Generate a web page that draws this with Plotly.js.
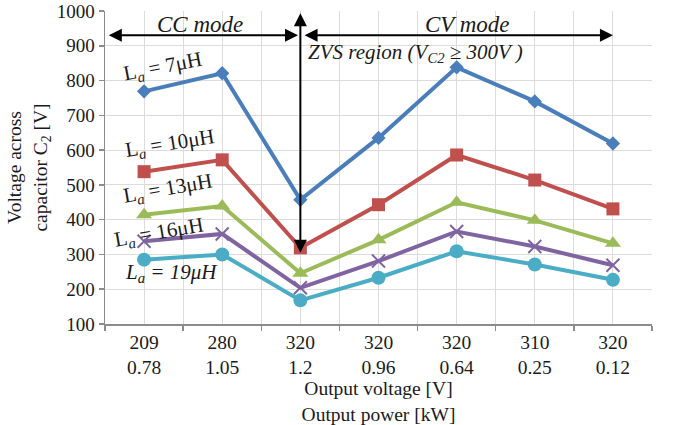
<!DOCTYPE html>
<html>
<head>
<meta charset="utf-8">
<script src="https://cdn.plot.ly/plotly-3.0.1.min.js"></script>
<style>html,body{margin:0;padding:0;background:#fff;}#chart{width:673px;height:425px;}</style>
</head>
<body>
<div id="chart"></div>
<script>
// Category tick labels
var outputVoltage = ["209", "280", "320", "320", "320", "310", "320"];
var outputPower = ["0.78", "1.05", "1.2", "0.96", "0.64", "0.25", "0.12"];

// Series values: voltage across capacitor C2 [V]
var la7 = [769, 821, 457, 635, 838, 740, 619];
var la10 = [538, 572, 319, 443, 586, 514, 431];
var la13 = [414, 439, 246, 342, 450, 398, 332];
var la16 = [338, 359, 204, 281, 366, 323, 269];
var la19 = [285, 300, 168, 233, 309, 271, 227];

var seriesNames = ["La = 7μH", "La = 10μH", "La = 13μH", "La = 16μH", "La = 19μH"];

var xIdx = outputVoltage.map(function (_, i) { return i; });
var tickText = outputVoltage.map(function (v, i) { return v + "<br>" + outputPower[i]; });

var serif = "Liberation Serif, Times New Roman, serif";

function series(y, name, color, symbol, size, extra) {
  var m = { symbol: symbol, size: size, color: color };
  if (extra) { for (var k in extra) m[k] = extra[k]; }
  return {
    x: xIdx, y: y, name: name, type: "scatter", mode: "lines+markers",
    line: { color: color, width: 4 },
    marker: m,
    cliponaxis: false
  };
}

var data = [
  series(la7, seriesNames[0], "#4a7ebb", "diamond", 11),
  series(la10, seriesNames[1], "#c0504d", "square", 13),
  series(la13, seriesNames[2], "#9bbb59", "triangle-up", 14),
  series(la16, seriesNames[3], "#8064a2", "x-thin-open", 13, { line: { color: "#8064a2", width: 2 } }),
  series(la19, seriesNames[4], "#4bacc6", "circle", 14)
];

var tickFontY = { family: serif, size: 19, color: "#1a1a1a" };
var tickFontX = { family: serif, size: 19.5, color: "#1a1a1a" };
var titleFont = { family: serif, size: 19.5, color: "#1a1a1a" };

function arrow(x, y, ax, ay) {
  return {
    x: x, y: y, ax: ax, ay: ay, xref: "x", yref: "y", axref: "x", ayref: "y",
    text: "", showarrow: true, arrowhead: 2, startarrowhead: 2, arrowside: "end+start",
    arrowsize: 1.3, startarrowsize: 1.3, arrowwidth: 2, arrowcolor: "#000"
  };
}

function label(text, x, y, angle, italic, size) {
  return {
    x: x, y: y, xref: "x", yref: "y", text: text, showarrow: false,
    textangle: angle, font: { family: serif, size: size || 21, color: "#1a1a1a", style: italic ? "italic" : "normal" },
    xanchor: "center", yanchor: "middle"
  };
}

var annotations = [
  arrow(1.97, 930, -0.47, 930),
  arrow(6.0, 930, 2.035, 930),
  arrow(2, 305, 2, 998),
  label("CC mode", 0.716, 961, 0, true, 23),
  label("CV mode", 4.145, 960, 0, true, 23),
  {
    x: 2.075, y: 880, xref: "x", yref: "y", xanchor: "left", yanchor: "middle",
    text: "ZVS region (V<sub>C2</sub> ≥ 300V )", showarrow: false,
    font: { family: serif, size: 21, color: "#1a1a1a", style: "italic" }
  },
  label("L<sub><i>a</i></sub> = 7μH", 0.242, 840, -11, false),
  label("L<sub><i>a</i></sub> = 10μH", 0.332, 617, -9, false),
  label("L<sub><i>a</i></sub> = 13μH", 0.307, 488, -10, false),
  label("L<sub><i>a</i></sub> = 16μH", 0.191, 362, -10, false),
  label("L<sub>a</sub> = 19μH", 0.357, 247, 0, true)
];

var layout = {
  width: 673, height: 425,
  margin: { l: 105, r: 21, t: 11, b: 101 },
  paper_bgcolor: "#fff", plot_bgcolor: "#fff",
  showlegend: false,
  font: { family: serif, size: 20, color: "#1a1a1a" },
  xaxis: {
    range: [-0.5, 6.5],
    tickmode: "array", tickvals: xIdx, ticktext: tickText,
    ticks: "", showgrid: true, gridcolor: "#dcdcdc", gridwidth: 1,
    showline: true, linecolor: "#8c8c8c", linewidth: 1.5,
    zeroline: false,
    tickfont: tickFontX,
    minor: { tickmode: "linear", tick0: -0.5, dtick: 1, showgrid: true, gridcolor: "#dcdcdc", gridwidth: 1, ticks: "outside", ticklen: 5, tickcolor: "#8c8c8c", tickwidth: 1.5 },
    title: { text: "Output voltage [V]<br>Output power [kW]", font: titleFont, standoff: 3 },
    fixedrange: true
  },
  yaxis: {
    range: [100, 1000], dtick: 100, tick0: 100,
    ticks: "outside", ticklen: 5, tickcolor: "#8c8c8c", tickwidth: 1.5,
    showgrid: true, gridcolor: "#dcdcdc", gridwidth: 1,
    showline: true, linecolor: "#8c8c8c", linewidth: 1.5,
    zeroline: false,
    tickfont: tickFontY,
    ticklabeloverflow: "allow",
    title: { text: "Voltage across<br>capacitor C<sub>2</sub> [V]", font: titleFont, standoff: 4 },
    fixedrange: true
  },
  annotations: annotations
};

Plotly.newPlot("chart", data, layout, { displayModeBar: false, staticPlot: true });
</script>
</body>
</html>
